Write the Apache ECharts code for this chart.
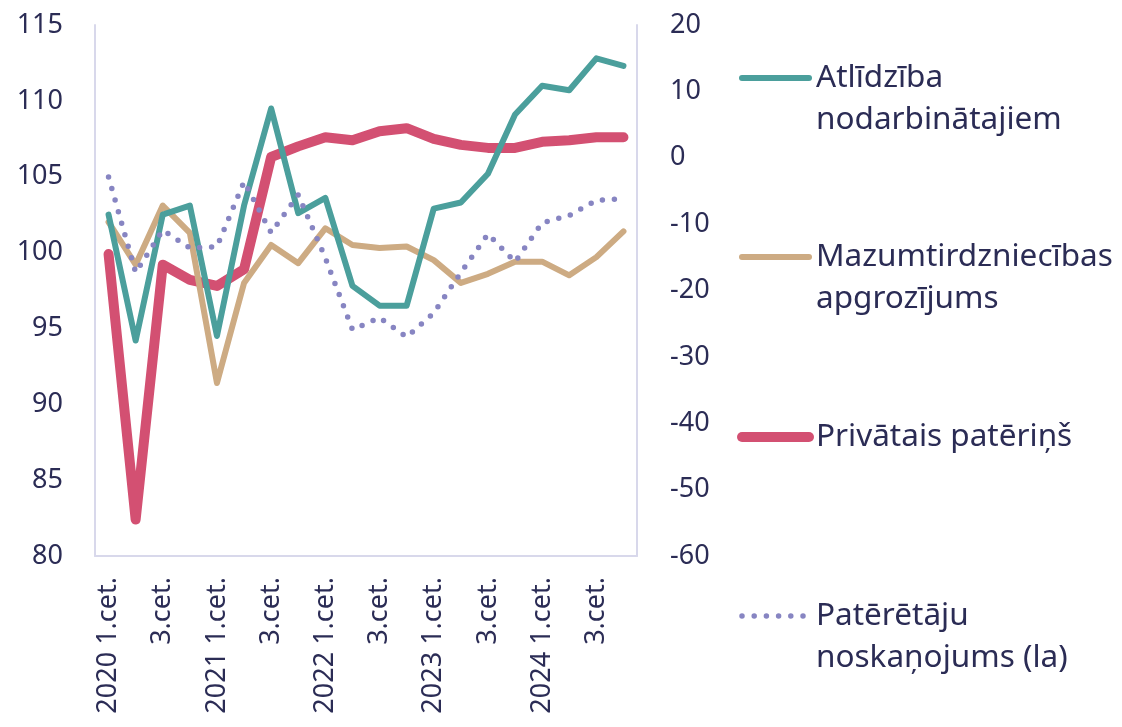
<!DOCTYPE html>
<html>
<head>
<meta charset="utf-8">
<script src="https://cdn.jsdelivr.net/npm/echarts@6/dist/echarts.min.js"></script>
<style>
    html, body { margin: 0; padding: 0; background: #fff; }
    #chart { width: 1122px; height: 727px; }
</style>
</head>
<body>
<div id="chart"></div>
<script>
// ceturkšņi 2020 1.cet. - 2024 4.cet.
const categories = [
    "2020 1.cet.", "2.cet.", "3.cet.", "4.cet.",
    "2021 1.cet.", "2.cet.", "3.cet.", "4.cet.",
    "2022 1.cet.", "2.cet.", "3.cet.", "4.cet.",
    "2023 1.cet.", "2.cet.", "3.cet.", "4.cet.",
    "2024 1.cet.", "2.cet.", "3.cet.", "4.cet."
];

// kreisā ass
const atlidziba = [102.5, 94.2, 102.5, 103.1, 94.5, 103.1, 109.5, 102.6, 103.6, 97.8,
    96.5, 96.5, 102.9, 103.3, 105.2, 109.1, 111.0, 110.7, 112.8, 112.3];
const mazumtirdznieciba = [102.0, 99.2, 103.1, 101.3, 91.4, 98.0, 100.5, 99.3, 101.6, 100.5,
    100.3, 100.4, 99.5, 98.0, 98.6, 99.4, 99.4, 98.5, 99.7, 101.4];
const privataisPaterins = [99.9, 82.4, 99.2, 98.2, 97.8, 98.9, 106.3, 107.0, 107.6, 107.4,
    108.0, 108.2, 107.5, 107.1, 106.9, 106.9, 107.3, 107.4, 107.6, 107.6];
// labā ass
const pateretajuNoskanojums = [-2.9, -17.3, -10.9, -13.6, -13.4, -3.6, -11.3, -5.6, -15.1, -25.9,
    -24.1, -27.0, -23.4, -17.3, -11.5, -15.7, -9.8, -8.7, -6.4, -6.2];

const names = [
    ["Atlīdzība", "nodarbinātajiem"],
    ["Mazumtirdzniecības", "apgrozījums"],
    ["Privātais patēriņš"],
    ["Patērētāju", "noskaņojums (la)"]
];

const textColor = "#2b2c55";
const axisColor = "#d8d8eb";
const legendFont = '31.5px "Noto Sans"';
const colors = ["#4b9f9c", "#cdab83", "#d35072", "#8785c2"];

// leģenda ar ikonu pie pirmās rindas
const legendY = [78, 257, 437, 616];
const legendGraphics = [];
names.forEach((lines, i) => {
    const y = legendY[i];
    if (i === 3) {
        legendGraphics.push({
            type: "line",
            shape: { x1: 742, y1: y, x2: 804, y2: y },
            style: { stroke: colors[i], lineWidth: 5.5, lineDash: [0, 12.2], lineCap: "round" },
        });
    } else {
        legendGraphics.push({
            type: "line",
            shape: { x1: 742, y1: y, x2: 809, y2: y },
            style: { stroke: colors[i], lineWidth: i === 2 ? 10 : 6, lineCap: "round" },
        });
    }
    lines.forEach((t, j) => {
        legendGraphics.push({
            type: "text",
            x: 816,
            y: y + j * 42,
            style: { text: t, font: legendFont, fill: textColor, verticalAlign: "middle", align: "left" },
        });
    });
});

const lineSeries = (name, data, color, width, axis) => ({
    name: name,
    type: "line",
    yAxisIndex: axis,
    data: data,
    symbol: "none",
    smooth: false,
    lineStyle: { color: color, width: width, cap: "round", join: "round" },
    itemStyle: { color: color },
});

const chart = echarts.init(document.getElementById("chart"));
chart.setOption({
    animation: false,
    textStyle: { fontFamily: "Noto Sans" },
    grid: { left: 95, right: 485, top: 25, bottom: 171, outerBoundsMode: "none" },
    xAxis: {
        type: "category",
        data: categories,
        boundaryGap: true,
        axisLine: { onZero: false, lineStyle: { color: axisColor, width: 2 } },
        axisTick: { show: false },
        axisLabel: { interval: 1, rotate: 90, margin: 21, fontSize: 27, color: textColor },
    },
    yAxis: [
        {
            type: "value",
            min: 80,
            max: 115,
            interval: 5,
            position: "left",
            axisLine: { show: true, lineStyle: { color: axisColor, width: 2 } },
            axisTick: { show: false },
            splitLine: { show: false },
            axisLabel: { margin: 32, fontSize: 27, color: textColor },
        },
        {
            type: "value",
            min: -60,
            max: 20,
            interval: 10,
            position: "right",
            axisLine: { show: true, lineStyle: { color: axisColor, width: 2 } },
            axisTick: { show: false },
            splitLine: { show: false },
            axisLabel: { margin: 33, fontSize: 27, color: textColor },
        },
    ],
    series: [
        lineSeries(names[2].join(" "), privataisPaterins, colors[2], 10, 0),
        lineSeries(names[1].join(" "), mazumtirdznieciba, colors[1], 6, 0),
        lineSeries(names[0].join(" "), atlidziba, colors[0], 6, 0),
        {
            ...lineSeries(names[3].join(" "), pateretajuNoskanojums, colors[3], 5.5, 1),
            lineStyle: { color: colors[3], width: 5.5, type: [0, 12], cap: "round", join: "round" },
        },
    ],
    graphic: legendGraphics,
});
</script>
</body>
</html>
